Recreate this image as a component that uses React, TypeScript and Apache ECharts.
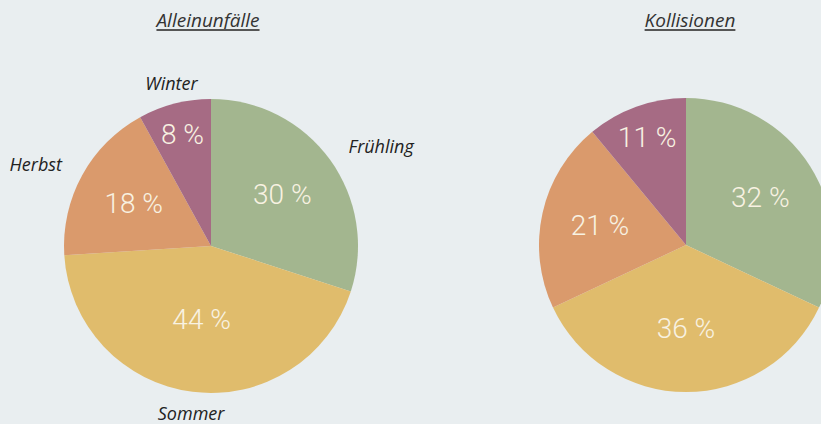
import React, { useEffect, useRef } from 'react';
import * as echarts from 'echarts';

const seasons = ['Frühling', 'Sommer', 'Herbst', 'Winter'];
const alleinValues = [30, 44, 18, 8];
const kollisionValues = [32, 36, 21, 11];
const titles = ['Alleinunfälle', 'Kollisionen'];
const colors = ['#a3b68f', '#e0bc6c', '#da9a6c', '#a66b84'];

const W = 821;
const H = 424;
const R = 147;
const centers: [number, number][] = [[211, 246], [686, 245]];
const TITLE_FONT = 'italic 400 19px "Open Sans"';
const TITLE_Y = 20;

function angles(values: number[], idx: number) {
  const total = values.reduce((a, b) => a + b, 0);
  let start = 0;
  for (let i = 0; i < idx; i++) start += values[i];
  const span = (values[idx] / total) * Math.PI * 2;
  return { mid: (start / total) * Math.PI * 2 + span / 2, half: span / 2 };
}

function measure(text: string, font: string) {
  const c = document.createElement('canvas').getContext('2d');
  if (!c) return text.length * 8;
  c.font = font;
  return c.measureText(text).width;
}

export default function App() {
  const ref = useRef<HTMLDivElement>(null);
  useEffect(() => {
    if (!ref.current) return;
    const chart = echarts.init(ref.current, undefined, { renderer: 'svg' });
    const valueSets = [alleinValues, kollisionValues];

    const innerLayout = (pieIdx: number) => (p: any) => {
      const vals = valueSets[pieIdx];
      const { mid, half } = angles(vals, p.dataIndex);
      const centroid = ((2 / 3) * R * Math.sin(half)) / half;
      const d = vals[p.dataIndex] < 12 ? 0.78 * R : Math.min(0.6 * R, centroid * 1.07);
      const [cx, cy] = centers[pieIdx];
      return { x: cx + d * Math.sin(mid), y: cy - d * Math.cos(mid), align: 'center', verticalAlign: 'middle' };
    };
    const outerLayout = (pieIdx: number) => (p: any) => {
      const vals = valueSets[pieIdx];
      const { mid } = angles(vals, p.dataIndex);
      const [cx, cy] = centers[pieIdx];
      const s = Math.sin(mid);
      const c = Math.cos(mid);
      if (Math.abs(s) > 0.7) {
        const d = R + 23;
        return { x: cx + d * s, y: cy - d * c, align: s > 0 ? 'left' : 'right', verticalAlign: 'middle' };
      }
      const d = R + 12;
      return {
        x: cx + d * s,
        y: cy - d * c,
        align: 'center',
        verticalAlign: c > 0 ? 'bottom' : 'top',
      };
    };

    const pieData = (vals: number[]) =>
      vals.map((v, i) => ({ name: seasons[i], value: v, itemStyle: { color: colors[i] } }));

    const innerLabel = {
      show: true,
      position: 'inside',
      formatter: (p: any) => `${p.value} %`,
      color: '#f8f2e2',
      fontFamily: 'Roboto',
      fontWeight: 300,
      fontSize: 28,
    };

    const series: any[] = [];
    valueSets.forEach((vals, i) => {
      series.push({
        type: 'pie',
        center: centers[i],
        radius: R,
        startAngle: 90,
        clockwise: true,
        silent: true,
        data: pieData(vals),
        label: innerLabel,
        labelLine: { show: false },
        labelLayout: innerLayout(i),
        itemStyle: { borderWidth: 0 },
      });
    });
    series.push({
      type: 'pie',
      center: centers[0],
      radius: R,
      startAngle: 90,
      clockwise: true,
      silent: true,
      avoidLabelOverlap: false,
      data: alleinValues.map((v, i) => ({ name: seasons[i], value: v })),
      itemStyle: { color: 'rgba(0,0,0,0)' },
      label: {
        show: true,
        position: 'outside',
        formatter: '{b}',
        color: '#222',
        fontFamily: 'Open Sans',
        fontStyle: 'italic',
        fontSize: 18,
        lineHeight: 18,
        overflow: 'none',
        edgeDistance: 0,
        bleedMargin: 0,
      },
      labelLine: { show: false, length: 23, length2: 0 },
      labelLayout: outerLayout(0),
    });

    const graphic: any[] = [];
    titles.forEach((t, i) => {
      const cx = i === 0 ? 208 : 690;
      const w = measure(t, TITLE_FONT);
      graphic.push({
        type: 'text',
        x: cx,
        y: TITLE_Y,
        style: {
          text: t,
          fill: '#333',
          font: TITLE_FONT,
          align: 'center',
          verticalAlign: 'middle',
        },
      });
      graphic.push({
        type: 'rect',
        shape: { x: cx - w / 2, y: TITLE_Y + 9, width: w, height: 2 },
        style: { fill: '#555' },
      });
    });

    chart.setOption({
      animation: false,
      backgroundColor: '#e9eef0',
      series,
      graphic,
    });
    return () => chart.dispose();
  }, []);
  return <div ref={ref} style={{ position: 'fixed', left: 0, top: 0, width: W, height: H }} />;
}
